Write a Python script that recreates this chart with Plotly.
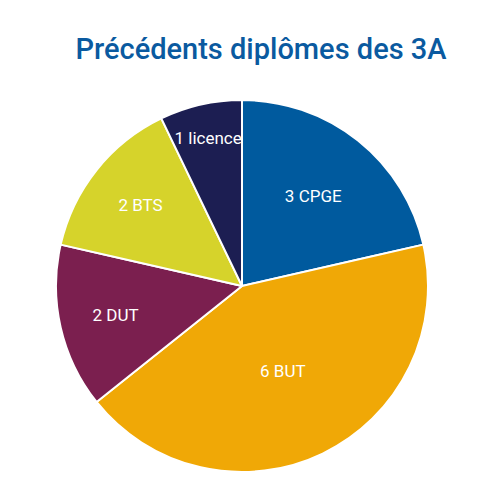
import plotly.graph_objects as go

labels = ['CPGE', 'BUT', 'DUT', 'BTS', 'licence']
values = [3, 6, 2, 2, 1]
colors = ['#005a9e', '#f0a806', '#7b1f4f', '#d6d32b', '#1c1e52']

fig = go.Figure()
fig.add_trace(
    go.Pie(
        labels=labels,
        values=values,
        sort=False,
        direction='clockwise',
        rotation=0,
        marker=dict(colors=colors, line=dict(color='white', width=2)),
        texttemplate='%{value} %{label}',
        textposition='inside',
        insidetextorientation='horizontal',
        textfont=dict(family='Roboto', size=17, color='white'),
        showlegend=False,
        hoverinfo='label+value+percent',
    )
)
fig.update_layout(
    width=500,
    height=500,
    margin=dict(l=48, r=80, t=92, b=36),
    paper_bgcolor='white',
    uniformtext=dict(minsize=17, mode='show'),
    title=dict(
        text='Précédents diplômes des 3A',
        x=0.506, xanchor='center',
        y=0.918, yanchor='middle',
        font=dict(family='Roboto', size=29, color='#0a5aa0', weight=500),
    ),
)
fig.write_html('out.html')
